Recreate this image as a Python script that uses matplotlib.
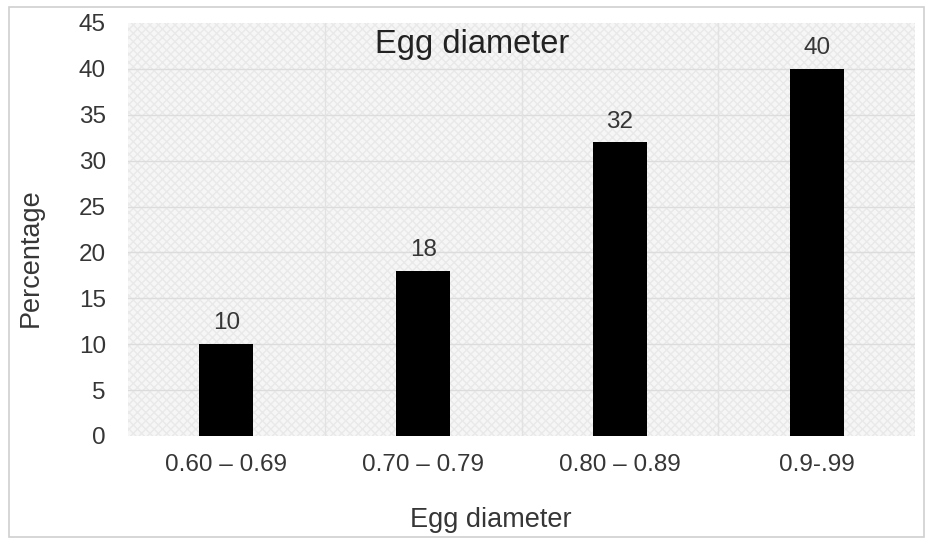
import matplotlib.pyplot as plt
from matplotlib.patches import Rectangle

plt.rcParams['font.family'] = ['Liberation Sans', 'DejaVu Sans']

# data
categories = ['0.60 \u2013 0.69', '0.70 \u2013 0.79', '0.80 \u2013 0.89', '0.9-.99']
percentages = [10, 18, 32, 40]
y_ticks = [0, 5, 10, 15, 20, 25, 30, 35, 40, 45]

text_color = '#363636'

fig = plt.figure(figsize=(9.25, 5.38), dpi=100)
ax = fig.add_axes([128 / 925, 1 - 436 / 538, 787 / 925, 413 / 538])

# light grey outer frame round the whole picture
fig.patches.append(Rectangle((9 / 925, 1 / 538), 915 / 925, 530 / 538,
                             transform=fig.transFigure, fill=False,
                             edgecolor='#d0d0d0', linewidth=1.2))

# dotted light grey plot background
ax.set_facecolor('#f6f6f6')
ax.add_patch(Rectangle((0, 0), 1, 1, transform=ax.transAxes,
                       facecolor='none', edgecolor='#e9e9e9',
                       hatch='xxxx', linewidth=0, zorder=0))

x = list(range(len(categories)))
bars = ax.bar(x, percentages, width=0.275, color='black', zorder=3)

for rect, val in zip(bars, percentages):
    ax.annotate(str(val), (rect.get_x() + rect.get_width() / 2, rect.get_height()),
                xytext=(0, 7), textcoords='offset points',
                ha='center', va='bottom', fontsize=17.5, color=text_color)

ax.set_xlim(-0.5, len(categories) - 0.5)
ax.set_ylim(0, 45)
ax.set_yticks(y_ticks)
ax.set_xticks(x)
ax.set_xticklabels(categories)

# grid: horizontal at each tick, vertical between categories
for yv in y_ticks[1:-1]:
    ax.axhline(yv, color='#dcdcdc', linewidth=1, zorder=1)
for xv in [0.5, 1.5, 2.5]:
    ax.axvline(xv, color='#e2e2e2', linewidth=1, zorder=1)

for s in ax.spines.values():
    s.set_visible(False)

ax.tick_params(axis='both', length=0, labelsize=17.5, labelcolor=text_color)
ax.tick_params(axis='x', pad=13)
ax.tick_params(axis='y', pad=16)

ax.text((472 - 128) / 787, (436 - 45) / 413, 'Egg diameter', transform=ax.transAxes,
        ha='center', va='center', fontsize=23.5, color='#222222')

fig.text(491 / 925, 1 - 520 / 538, 'Egg diameter', ha='center', va='center',
         fontsize=19.5, color=text_color)
fig.text(31 / 925, 1 - 258 / 538, 'Percentage', ha='center', va='center',
         rotation=90, fontsize=19.5, color=text_color)

fig.savefig('out.png', dpi=100)
